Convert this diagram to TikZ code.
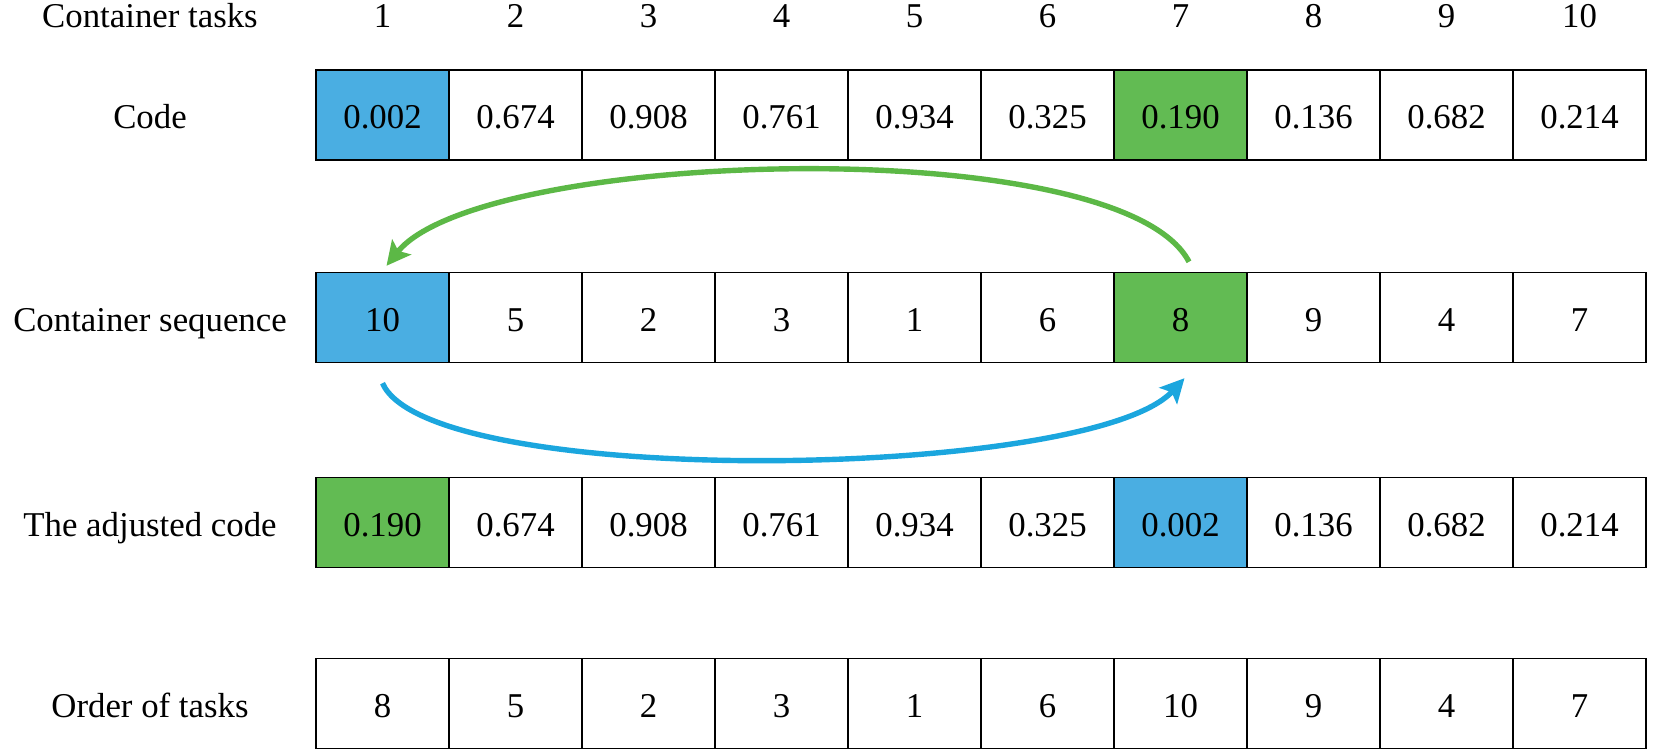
\documentclass[tikz,border=0pt]{standalone}
\usepackage{fontspec}
\setmainfont{Liberation Serif}
\usetikzlibrary{arrows.meta,calc}
\definecolor{cblue}{RGB}{74,174,226}
\definecolor{cgreen}{RGB}{98,187,83}
\definecolor{ablue}{RGB}{27,166,222}
\definecolor{agreen}{RGB}{92,184,70}
\tikzset{
  txt/.style={inner sep=0pt, text height=14pt, text depth=0pt, font=\fontsize{17.4}{20}\selectfont},
  cell/.style={txt, draw=black, line width=0.7pt, minimum width=66.5pt, minimum height=45pt},
  lbl/.style={txt},
  swap/.style={line width=2.7pt, -{Stealth[length=12pt,width=12pt,inset=2.5pt]}}
}
\begin{document}
\begin{tikzpicture}[x=0.5pt,y=-0.5pt]
\useasboundingbox (0,0) rectangle (1661,753);
% labels
\node[lbl] (lh) at (150,14) {Container tasks};
\node[lbl] (lc) at (150,115) {Code};
\node[lbl] (ls) at (150,317.5) {Container sequence};
\node[lbl] (la) at (150,522.5) {The adjusted code};
\node[lbl] (lo) at (150,703.5) {Order of tasks};
% header numbers
\foreach \i in {1,...,10} \node[lbl] (h\i) at (249.5+133*\i,14) {\i};
% code row
\foreach \v/\f [count=\i] in {0.002/cblue,0.674/white,0.908/white,0.761/white,0.934/white,0.325/white,0.190/cgreen,0.136/white,0.682/white,0.214/white}
  \node[cell,fill=\f] (c\i) at (249.5+133*\i,115) {\v};
% container sequence
\foreach \v/\f [count=\i] in {10/cblue,5/white,2/white,3/white,1/white,6/white,8/cgreen,9/white,4/white,7/white}
  \node[cell,fill=\f] (s\i) at (249.5+133*\i,317.5) {\v};
% adjusted code
\foreach \v/\f [count=\i] in {0.190/cgreen,0.674/white,0.908/white,0.761/white,0.934/white,0.325/white,0.002/cblue,0.136/white,0.682/white,0.214/white}
  \node[cell,fill=\f] (a\i) at (249.5+133*\i,522.5) {\v};
% order of tasks
\foreach \v [count=\i] in {8,5,2,3,1,6,10,9,4,7}
  \node[cell] (o\i) at (249.5+133*\i,703.5) {\v};
% arrows
\coordinate (gs) at ($(s7.north)+(8.5,-10)$);
\coordinate (ge) at ($(s1.north)+(4,-6)$);
\coordinate (bs) at ($(s1.south)+(0,20)$);
\coordinate (be) at ($(s7.south)+(4,15)$);
\draw[swap,agreen] (gs) .. controls +(-69,-132) and +(94,-117) .. (ge);
\draw[swap,ablue] (bs) .. controls +(47,107) and +(-94,102) .. (be);
\end{tikzpicture}
\end{document}
